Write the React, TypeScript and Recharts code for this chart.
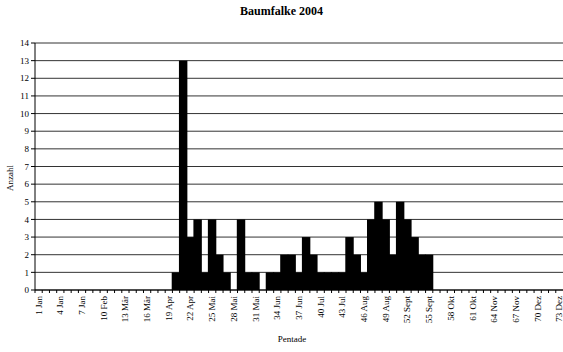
import { BarChart, Bar, XAxis, YAxis, CartesianGrid } from "recharts";

// Pentaden 1..73, Anzahl Beobachtungen
const pentades = Array.from({ length: 73 }, (_, i) => i + 1);
const counts = [
  0, 0, 0, 0, 0, 0, 0, 0, 0, 0, 0, 0, 0, 0, 0, 0, 0, 0, 0, 1,
  13, 3, 4, 1, 4, 2, 1, 0, 4, 1, 1, 0, 1, 1, 2, 2, 1, 3, 2, 1,
  1, 1, 1, 3, 2, 1, 4, 5, 4, 2, 5, 4, 3, 2, 2, 0, 0, 0, 0, 0,
  0, 0, 0, 0, 0, 0, 0, 0, 0, 0, 0, 0, 0,
];
// every third pentade gets a label
const tickLabels = [
  "1 Jan", "4 Jan", "7 Jan", "10 Feb", "13 Mär", "16 Mär", "19 Apr", "22 Apr",
  "25 Mai", "28 Mai", "31 Mai", "34 Jun", "37 Jun", "40 Jul", "43 Jul", "46 Aug",
  "49 Aug", "52 Sept", "55 Sept", "58 Okt", "61 Okt", "64 Nov", "67 Nov", "70 Dez", "73 Dez",
];
const yTicks = [0, 1, 2, 3, 4, 5, 6, 7, 8, 9, 10, 11, 12, 13, 14];

const data = pentades.map((p, i) => ({ pentade: p, count: counts[i] }));

const W = 563;
const H = 352;
const LEFT = 35;
const STEP = (W - LEFT) / pentades.length;
const FONT = "'Liberation Serif', 'DejaVu Serif', serif";

const PentadeTick = (props: any) => {
  const { x, y, payload } = props;
  const p = payload.value as number;
  const bx = x - STEP / 2;
  const show = (p - 1) % 3 === 0;
  const ty = y + 6;
  return (
    <g>
      <line x1={bx} y1={y} x2={bx} y2={y + 3} stroke="#000" />
      {show && (
        <text
          x={x}
          y={ty}
          dy="0.33em"
          transform={`rotate(-90, ${x}, ${ty})`}
          textAnchor="end"
          fontSize={9}
          fontFamily={FONT}
          fill="#000"
        >
          {tickLabels[(p - 1) / 3]}
        </text>
      )}
    </g>
  );
};

// full-width columns, no gaps between neighbours
const Column = (props: any) => {
  const { x, y, width, height } = props;
  if (!height || height <= 0) return null;
  const cx = x + width / 2;
  return (
    <rect
      x={cx - STEP / 2 - 0.6}
      y={y}
      width={STEP + 1.2}
      height={height}
      fill="#000"
      stroke="none"
    />
  );
};

export default function App() {
  return (
    <div style={{ position: "absolute", left: 0, top: 0, width: W, height: H, background: "#fff", fontFamily: FONT }}>
      <div style={{ position: "absolute", left: 0, top: 4, width: W, textAlign: "center", fontSize: 12, fontWeight: "bold" }}>
        Baumfalke 2004
      </div>
      <div
        style={{
          position: "absolute",
          left: 10,
          top: 178,
          fontSize: 9,
          transform: "translate(-50%, -50%) rotate(-90deg)",
          whiteSpace: "nowrap",
        }}
      >
        Anzahl
      </div>
      <div style={{ position: "absolute", left: 0, top: 334, width: 584, textAlign: "center", fontSize: 9 }}>
        Pentade
      </div>
      <BarChart
        width={W}
        height={H}
        data={data}
        margin={{ top: 43, right: 0, left: 0, bottom: 0 }}
        barCategoryGap={0}
        style={{ position: "absolute", left: 0, top: 0 }}
      >
        <CartesianGrid vertical={false} stroke="#333" />
        <XAxis
          dataKey="pentade"
          interval={0}
          height={62}
          tickSize={0}
          tickMargin={0}
          tick={<PentadeTick />}
          axisLine={{ stroke: "#000" }}
        />
        <YAxis
          width={LEFT}
          domain={[0, 14]}
          ticks={yTicks}
          interval={0}
          tickSize={4}
          tickMargin={2}
          tick={{ fontSize: 9, fill: "#000", fontFamily: FONT }}
          tickLine={{ stroke: "#000" }}
          axisLine={{ stroke: "#000" }}
        />
        <Bar dataKey="count" fill="#000" shape={<Column />} isAnimationActive={false} />
      </BarChart>
    </div>
  );
}
